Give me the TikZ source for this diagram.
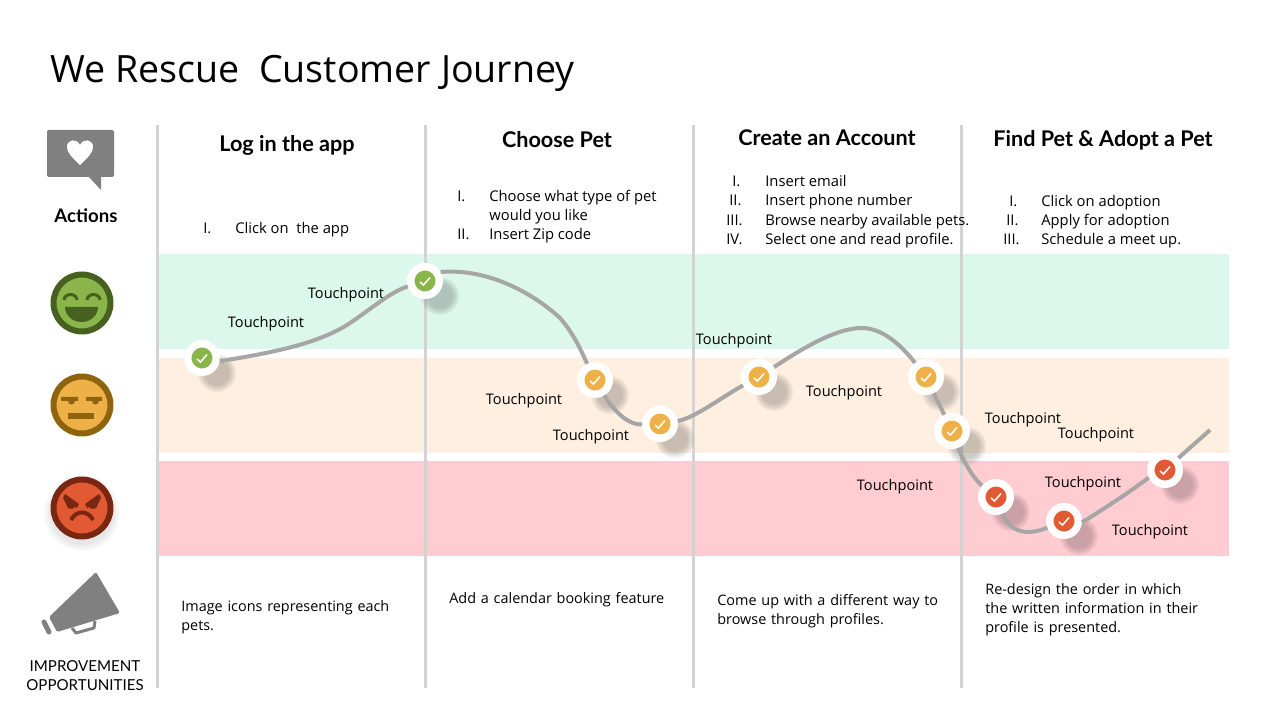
\documentclass[tikz,border=0pt]{standalone}
\usepackage{fontspec}
\setmainfont{Open Sans}
\newfontfamily\headfont{Lato}
\definecolor{bandgreen}{HTML}{DCF7EC}
\definecolor{bandorange}{HTML}{FEEFE0}
\definecolor{bandred}{HTML}{FFCCD2}
\definecolor{rulegray}{HTML}{D3D3D3}
\definecolor{curvegray}{HTML}{A6A6A6}
\definecolor{icongray}{HTML}{808080}
\definecolor{happy}{HTML}{8AB54B}
\definecolor{happydark}{HTML}{45601F}
\definecolor{meh}{HTML}{EDB148}
\definecolor{mehdark}{HTML}{8F640F}
\definecolor{angry}{HTML}{E25A33}
\definecolor{angrydark}{HTML}{7A2712}
\begin{document}
\begin{tikzpicture}[x=0.02cm,y=-0.02cm,
  every node/.style={font=\fontsize{8.3}{10.8}\selectfont,inner sep=0pt},
  title/.style={anchor=west,font=\fontsize{21.4}{26}\selectfont},
  heading/.style={font=\headfont\bfseries\fontsize{12.3}{14}\selectfont},
  sidelabel/.style={font=\headfont\fontsize{8.6}{10.8}\selectfont,align=center},
  item/.style={anchor=base west,font=\fontsize{8.4}{10.8}\selectfont},
  note/.style={anchor=north west,align=left,text width=#1,font=\fontsize{8.2}{10.8}\selectfont},
  band/.style={inner sep=0pt,minimum width=21.44cm,minimum height=1.9cm,anchor=north west},
  divider/.style={rulegray,line width=0.06cm},
  journey/.style={curvegray,line width=0.08cm},
  touchpoint/.style={circle,draw=white,line width=0.15cm,minimum size=0.57cm,fill=#1},
  face/.style={circle,line width=0.12cm,minimum size=1.14cm}]
\useasboundingbox (0,0) rectangle (1279,719);
\fill[white] (0,0) rectangle (1279,719);
\node[title] (heading) at (50,73) {We Rescue\ \ Customer Journey};
% bands
\node[band,fill=bandgreen] (good) at (157,254) {};
\node[band,fill=bandorange] (neutral) at (157,358) {};
\node[band,fill=bandred] (bad) at (157,461) {};
% column rules
\foreach \x in {157,425,693,961}
  \draw[divider] (\x,125) -- (\x,688);
% column headings
\node[heading] (h1) at (287,145) {Log in the app};
\node[heading] (h2) at (557,140) {Choose Pet};
\node[heading] (h3) at (827,138) {Create an Account};
\node[heading] (h4) at (1103,140) {Find Pet \& Adopt a Pet};
% action lists
\foreach \xa/\xb/\y/\num/\txt in {
  203/235/234/I./Click on\ \ the app,
  457/489/202/I./Choose what type of pet,
  457/489/221//would you like,
  457/489/240/II./Insert Zip code,
  732/765/187/I./Insert email,
  729/765/206/II./Insert phone number,
  726/765/226/III./Browse nearby available pets.,
  726/765/245/IV./Select one and read profile.,
  1009/1041/207/I./Click on adoption,
  1006/1041/226/II./Apply for adoption,
  1003/1041/245/III./Schedule a meet up.}{
  \node[item] at (\xa,\y) {\num};
  \node[item] at (\xb,\y) {\txt};
}
% touchpoint labels
\foreach \x/\y in {266/324,346/295,524/401,591/437,734/341,844/393,895/487,1023/420,1096/435,1083/484,1150/532}
  \node at (\x,\y) {Touchpoint};
% touchpoints
\foreach \name/\x/\y/\col in {
  tpa/202/358/happy,tpb/425/281/happy,
  tpc/595/380/meh,tpd/660/424/meh,tpe/759/377/meh,tpf/926/377/meh,tpg/952/431/meh,
  tph/996/497/angry,tpi/1064/521/angry,tpj/1165/470/angry}{
  \foreach \r in {19,17,15,13}
    \fill[black,opacity=0.055] (\x+15,\y+15) circle (\r);
  \node[touchpoint=\col] (\name) at (\x,\y) {};
  \draw[white,line width=0.03cm] (\x-5,\y+1) -- (\x-1.5,\y+4) -- (\x+5,\y-3.5);
}
\coordinate (tpk) at (1210,430);
\coordinate (peak) at (862,328);
\draw[journey] (tpa.-10) .. controls (265,354) and (315,345) .. (347,325)
  .. controls (370,310) and (390,292) .. (tpb);
\draw[journey] (tpb.30) .. controls (490,268) and (535,295) .. (560,318) .. controls (575,335) and (583,355) .. (tpc);
\draw[journey] (tpc) .. controls (610,405) and (625,425) .. (tpd);
\draw[journey] (tpd) .. controls (695,418) and (725,395) .. (tpe);
\draw[journey] (tpe) .. controls (800,350) and (835,328) .. (peak);
\draw[journey] (peak) .. controls (885,328) and (905,350) .. (tpf);
\draw[journey] (tpf) -- (tpg);
\draw[journey] (tpg) .. controls (965,465) and (975,480) .. (tph);
\draw[journey] (tph) .. controls (1008,528) and (1022,538) .. (tpi);
\draw[journey] (tpi.-5) .. controls (1105,508) and (1130,492) .. (tpj.205);
\draw[journey] (tpj) -- (tpk);
% improvement notes
\node[note=6cm] (n1) at (181,600) {Image icons representing each\\pets.};
\node[note=6cm] (n2) at (449,592) {Add a calendar booking feature};
\node[note=6cm] (n3) at (717,594) {Come up with a different way to\\browse through profiles.};
\node[note=6cm] (n4) at (985,583) {Re-design the order in which\\the written information in their\\profile is presented.};
% side icons
\fill[icongray,rounded corners=0.04cm] (47,130) rectangle (114,177);
\fill[icongray] (88,176) -- (101,190) -- (101,176) -- cycle;
\fill[white] (80,165) .. controls (72,157) and (67,153) .. (67,147) .. controls (67,139) and (77,138) .. (80,145)
  .. controls (83,138) and (93,139) .. (93,147) .. controls (93,153) and (88,157) .. (80,165) -- cycle;
\node[sidelabel,font=\headfont\bfseries\fontsize{10.6}{12}\selectfont] (actions) at (86,216) {Actions};
% faces
\node[face,draw=happydark,fill=happy] (fgood) at (82,303) {};
\draw[happydark,line width=0.06cm] (64,300) arc (180:360:6.5 and 5.5);
\draw[happydark,line width=0.06cm] (87,300) arc (180:360:6.5 and 5.5);
\fill[happydark] (65,307) -- (98,307) arc (0:180:16.5 and 15) -- cycle;
\node[face,draw=mehdark,fill=meh] (fneutral) at (82,405) {};
\fill[mehdark] (61,397) -- (78,397) -- (78,401) -- (75,401) arc (0:180:3.5 and 3.5) -- (61,401) -- cycle;
\fill[mehdark] (86,397) -- (102,397) -- (102,401) -- (99,401) arc (0:180:3.5 and 3.5) -- (86,401) -- cycle;
\fill[mehdark] (68,413) rectangle (94,419);
\foreach \r in {38,36,34,32}
  \fill[black,opacity=0.025] (82,513) circle (\r);
\node[face,draw=angrydark,fill=angry] (fbad) at (82,508) {};
\fill[angrydark] (65,494) -- (79,504) -- (77,508) -- (75,507) arc (30:180:4.5 and 4) -- (63,498) -- cycle;
\fill[angrydark] (99,494) -- (85,504) -- (87,508) -- (89,507) arc (150:0:4.5 and 4) -- (101,498) -- cycle;
\draw[angrydark,line width=0.08cm] (71,520) .. controls (76,510) and (88,510) .. (93,520);
% megaphone
\fill[icongray,rounded corners=0.03cm] (96,572) -- (120,613) -- (57,632) -- (49,617) -- cycle;
\draw[icongray,line width=0.1cm,line cap=round] (44,622) -- (49,632);
\draw[icongray,line width=0.06cm,line join=round] (72,628) -- (76,633) -- (94,628) -- (95,621);
\node[sidelabel] (improve) at (85,676) {IMPROVEMENT\\OPPORTUNITIES};
\end{tikzpicture}
\end{document}
